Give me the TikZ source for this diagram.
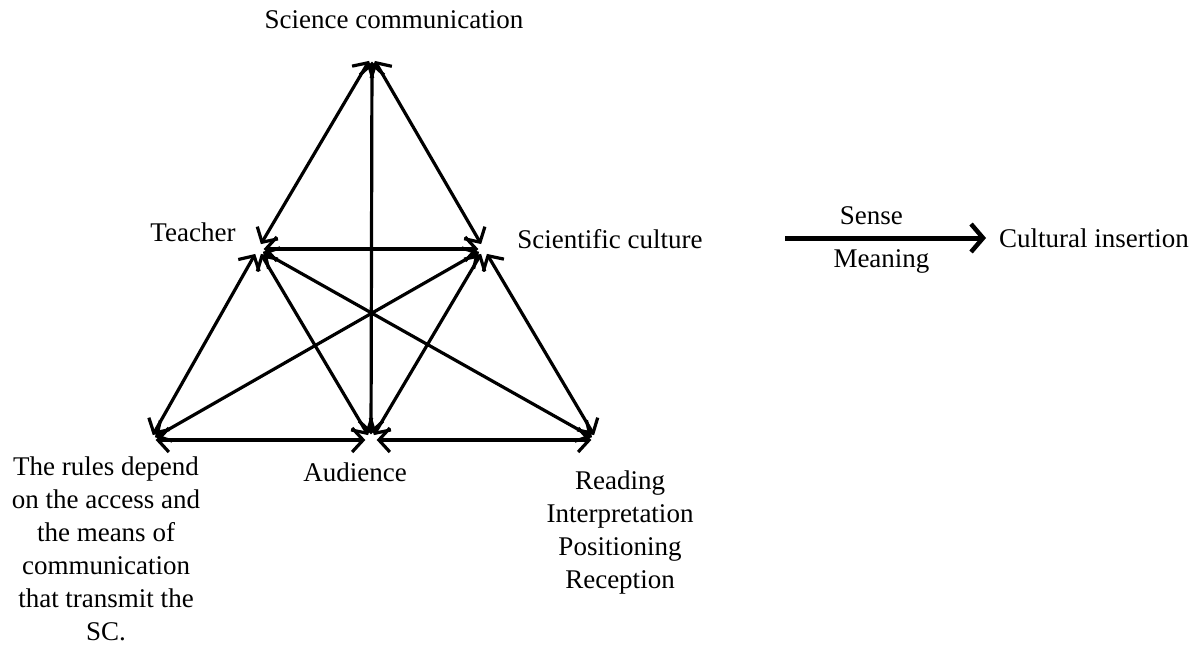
\documentclass[tikz,border=0pt]{standalone}
\usepackage{fontspec}
\setmainfont{Liberation Serif}
\usetikzlibrary{arrows.meta}
\tikzstyle{arrow} = [line width=3.2pt,<->,>={Straight Barb[length=11pt,width=24pt,line width=3.2pt]}]
\tikzstyle{bigarrow} = [line width=5pt,->,>={Straight Barb[length=12pt,width=28pt,line width=4.5pt]}]
\tikzstyle{corner} = [circle, inner sep=0pt, minimum size=11pt]
\tikzstyle{label} = [align=center, font=\fontsize{27}{33}\selectfont, inner sep=0pt]

\begin{document}
\begin{tikzpicture}[x=1pt,y=-1pt]
				\useasboundingbox (0,0) rectangle (1202,648);
				% corners of the triangle
				\node (sc) [corner] at (372,56) {};
				\node (teacher) [corner] at (258,249) {};
				\node (culture) [corner] at (484,249) {};
				\node (rules) [corner] at (150,440) {};
				\node (audience) [corner] at (371,440) {};
				\node (reading) [corner] at (597,440) {};
				% texts
				\node (scT) [label] at (394,20) {Science communication};
				\node (teacherT) [label] at (193,232) {Teacher};
				\node (cultureT) [label] at (610,239) {Scientific culture};
				\node (audienceT) [label] at (355,472) {Audience};
				\node (rulesT) [label, anchor=north] at (106,457) {The rules depend\\on the access and\\the means of\\communication\\that transmit the\\SC.};
				\node (readingT) [label, anchor=north] at (620,471) {Reading\\Interpretation\\Positioning\\Reception};
				% arrows
				\draw [arrow] (sc) -- (teacher);
				\draw [arrow] (sc) -- (culture);
				\draw [arrow] (sc) -- (audience);
				\draw [arrow] (teacher) -- (culture);
				\draw [arrow] (teacher) -- (rules);
				\draw [arrow] (teacher) -- (audience);
				\draw [arrow] (teacher) -- (reading);
				\draw [arrow] (culture) -- (rules);
				\draw [arrow] (culture) -- (audience);
				\draw [arrow] (culture) -- (reading);
				\draw [arrow] (rules) -- (audience);
				\draw [arrow] (audience) -- (reading);
				% sense and meaning
				\coordinate (start) at (785,238);
				\node (insertion) [label, anchor=west, inner xsep=13pt] at (986,238) {Cultural insertion};
				\draw [bigarrow] (start) -- (insertion.west)
					node [label, pos=0.43, above=11pt] {Sense}
					node [label, pos=0.48, below=9pt] {Meaning};
			\end{tikzpicture}
\end{document}
